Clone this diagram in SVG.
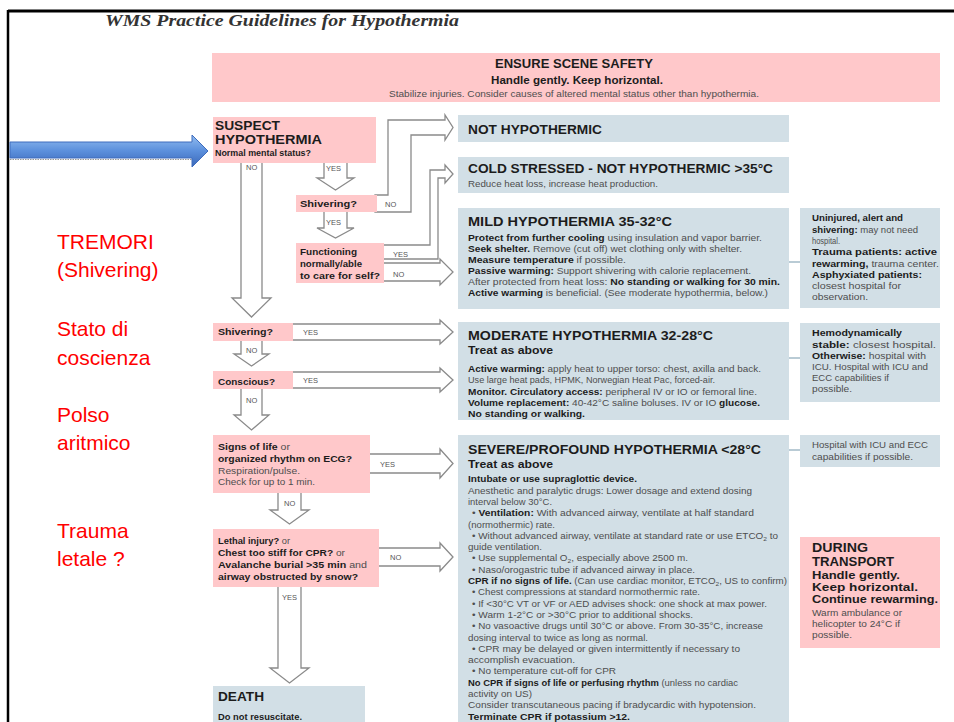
<svg xmlns="http://www.w3.org/2000/svg" width="954" height="722" viewBox="0 0 954 722">
<defs>
<linearGradient id="blueGrad" x1="0" y1="0" x2="0" y2="1">
<stop offset="0" stop-color="#93bdf0"/>
<stop offset="0.5" stop-color="#5b8fdc"/>
<stop offset="1" stop-color="#3a68b8"/>
</linearGradient>
<style>
text{font-family:"Liberation Sans",Arial,sans-serif}
.t{font-size:9px;fill:#4e4e4e}
.b{font-weight:700;fill:#1c1c1c}
.h{font-size:13.5px;font-weight:700;fill:#1c1c1c}
.s{font-size:11px;font-weight:700;fill:#1c1c1c}
.lbl{font-size:7.5px;fill:#555}
.pink{fill:#FFC8CA}
.blue{fill:#D2DFE6}
.arr{fill:#fff;stroke:#8a8a8a;stroke-width:1.3;stroke-linejoin:miter}
.link{stroke:#b9cbd5;stroke-width:2;fill:none}
.red{font-family:"Liberation Sans",Arial,sans-serif;font-size:21px;fill:#ff0000}
</style>
</defs>
<rect width="954" height="722" fill="#fff"/>
<g id="frame">
<line x1="8" y1="11" x2="954" y2="11" stroke="#000" stroke-width="3"/>
<line x1="8" y1="10" x2="8" y2="722" stroke="#000" stroke-width="2.5"/>
</g>
<g id="title">
<text x="105" y="26" style="font-family:'Liberation Serif','Times New Roman',serif;font-style:italic;font-weight:700;font-size:17px;fill:#333" textLength="354" lengthAdjust="spacingAndGlyphs">WMS Practice Guidelines for Hypothermia</text>
</g>
<g id="connectors">
<polygon class="arr" points="241,161 262,161 262,298 271,298 251.5,317 232,298 241,298"/>
<polygon class="arr" points="324,161 347,161 347,178 354,178 335.5,190 317,178 324,178"/>
<polygon class="arr" points="324,210 347,210 347,228 354,228 335.5,238 317,228 324,228"/>
<polygon class="arr" points="375,195 388,195 388,120 445,120 445,115 453,127.5 445,140 445,135 411,135 411,212 375,212"/>
<polygon class="arr" points="382,245 430,245 430,170 445,170 445,165 453,174 445,183 445,178 438,178 438,259 382,259"/>
<polygon class="arr" points="382,263 440,263 440,259 453,272 440,285 440,281 382,281"/>
<polygon class="arr" points="291,324 440,324 440,320 453,332 440,344 440,340 291,340"/>
<polygon class="arr" points="241,339 262,339 262,354 269,354 251.5,366 234,354 241,354"/>
<polygon class="arr" points="291,372 440,372 440,368 453,380 440,392 440,388 291,388"/>
<polygon class="arr" points="241,387 262,387 262,415 269,415 251.5,430 234,415 241,415"/>
<polygon class="arr" points="368,454 440,454 440,449 453,463.5 440,478 440,473 368,473"/>
<polygon class="arr" points="278,491 301,491 301,510 309,510 289.5,524 270,510 278,510"/>
<polygon class="arr" points="377,548 440,548 440,543 453,557 440,571 440,566 377,566"/>
<polygon class="arr" points="278,585 301,585 301,668 309,668 289.5,683 270,668 278,668"/>
<text class="lbl" x="246" y="170">NO</text>
<text class="lbl" x="326" y="171">YES</text>
<text class="lbl" x="326" y="225">YES</text>
<text class="lbl" x="385" y="207">NO</text>
<text class="lbl" x="393" y="257">YES</text>
<text class="lbl" x="393" y="277">NO</text>
<text class="lbl" x="303" y="335">YES</text>
<text class="lbl" x="246" y="353">NO</text>
<text class="lbl" x="303" y="383">YES</text>
<text class="lbl" x="246" y="403">NO</text>
<text class="lbl" x="380" y="467">YES</text>
<text class="lbl" x="284" y="506">NO</text>
<text class="lbl" x="390" y="560">NO</text>
<text class="lbl" x="282" y="600">YES</text>
<line class="link" x1="789" y1="262" x2="800" y2="262"/>
<line class="link" x1="789" y1="358" x2="800" y2="358"/>
<line class="link" x1="789" y1="450" x2="800" y2="450"/>
<g id="pointer-arrow">
<line x1="10" y1="159.5" x2="192" y2="159.5" stroke="#999" stroke-width="1.2" stroke-dasharray="1.5,1"/>
<polygon points="10,142 192,142 192,135 208,151 192,167 192,158 10,158" fill="url(#blueGrad)" stroke="#3f6cbd" stroke-width="1"/>
</g>
</g>
<g id="safety">
<rect class="pink" x="212" y="53" width="728" height="49"/>
<text class="b" x="574" y="68" text-anchor="middle" font-size="13" textLength="158" lengthAdjust="spacingAndGlyphs">ENSURE SCENE SAFETY</text>
<text class="b" x="577" y="84" text-anchor="middle" font-size="11" textLength="172" lengthAdjust="spacingAndGlyphs">Handle gently. Keep horizontal.</text>
<text class="t" x="574" y="96.5" text-anchor="middle" font-size="8" textLength="370" lengthAdjust="spacingAndGlyphs">Stabilize injuries. Consider causes of altered mental status other than hypothermia.</text>
</g>
<g id="suspect">
<rect class="pink" x="213" y="117" width="163" height="46"/>
<text class="h" x="215" y="129.5" font-size="11.5" textLength="65" lengthAdjust="spacingAndGlyphs">SUSPECT</text>
<text class="h" x="215" y="143.5" font-size="11.5" textLength="107" lengthAdjust="spacingAndGlyphs">HYPOTHERMIA</text>
<text class="t b" x="215" y="155.5" textLength="96" lengthAdjust="spacingAndGlyphs">Normal mental status?</text>
</g>
<g id="shivering1">
<rect class="pink" x="296" y="195" width="81" height="17"/>
<text class="t b" x="300" y="207" textLength="57" lengthAdjust="spacingAndGlyphs">Shivering?</text>
</g>
<g id="functioning">
<rect class="pink" x="296" y="243" width="88" height="40"/>
<text class="t b" x="300" y="255" textLength="57" lengthAdjust="spacingAndGlyphs">Functioning</text>
<text class="t b" x="300" y="267" textLength="62" lengthAdjust="spacingAndGlyphs">normally/able</text>
<text class="t b" x="300" y="279" textLength="80" lengthAdjust="spacingAndGlyphs">to care for self?</text>
</g>
<g id="shivering2">
<rect class="pink" x="213" y="323" width="80" height="18"/>
<text class="t b" x="218" y="335" textLength="55" lengthAdjust="spacingAndGlyphs">Shivering?</text>
</g>
<g id="conscious">
<rect class="pink" x="213" y="371" width="80" height="18"/>
<text class="t b" x="218" y="384.5" textLength="57" lengthAdjust="spacingAndGlyphs">Conscious?</text>
</g>
<g id="signs">
<rect class="pink" x="213" y="435" width="157" height="58"/>
<text class="t" x="218" y="450" textLength="72" lengthAdjust="spacingAndGlyphs"><tspan class="b">Signs of life</tspan> or</text>
<text class="t b" x="218" y="462" textLength="134" lengthAdjust="spacingAndGlyphs">organized rhythm on ECG?</text>
<text class="t" x="218" y="473.5" textLength="82" lengthAdjust="spacingAndGlyphs">Respiration/pulse.</text>
<text class="t" x="218" y="485" textLength="97" lengthAdjust="spacingAndGlyphs">Check for up to 1 min.</text>
</g>
<g id="lethal">
<rect class="pink" x="213" y="529" width="166" height="58"/>
<text class="t" x="218" y="543.5" textLength="72" lengthAdjust="spacingAndGlyphs"><tspan class="b">Lethal injury?</tspan> or</text>
<text class="t" x="218" y="555.5" textLength="127" lengthAdjust="spacingAndGlyphs"><tspan class="b">Chest too stiff  for CPR?</tspan> or</text>
<text class="t" x="218" y="567.5" textLength="149" lengthAdjust="spacingAndGlyphs"><tspan class="b">Avalanche burial &gt;35 min</tspan> and</text>
<text class="t b" x="218" y="579.5" textLength="140" lengthAdjust="spacingAndGlyphs">airway obstructed by snow?</text>
</g>
<g id="death">
<rect class="blue" x="213" y="686" width="152" height="36"/>
<text class="h" x="218" y="701" font-size="14" textLength="46" lengthAdjust="spacingAndGlyphs">DEATH</text>
<text class="t b" x="218" y="720" textLength="84" lengthAdjust="spacingAndGlyphs">Do not resuscitate.</text>
</g>
<g id="not-hypothermic">
<rect class="blue" x="458" y="115" width="331" height="27"/>
<text class="h" x="468" y="134" textLength="134" lengthAdjust="spacingAndGlyphs">NOT HYPOTHERMIC</text>
</g>
<g id="cold-stressed">
<rect class="blue" x="458" y="157" width="331" height="36"/>
<text class="h" x="468" y="173" textLength="305" lengthAdjust="spacingAndGlyphs">COLD STRESSED - NOT HYPOTHERMIC &gt;35°C</text>
<text class="t" x="468" y="187" textLength="190" lengthAdjust="spacingAndGlyphs">Reduce heat loss, increase heat production.</text>
</g>
<g id="mild">
<rect class="blue" x="458" y="208" width="331" height="101"/>
<text class="h" x="468" y="226" textLength="204" lengthAdjust="spacingAndGlyphs">MILD HYPOTHERMIA 35-32°C</text>
<text class="t" x="468" y="240.5" textLength="294" lengthAdjust="spacingAndGlyphs"><tspan class="b">Protect from further cooling</tspan> using insulation and vapor barrier.</text>
<text class="t" x="468" y="251.5" textLength="274" lengthAdjust="spacingAndGlyphs"><tspan class="b">Seek shelter.</tspan> Remove (cut off) wet clothing only with shelter.</text>
<text class="t" x="468" y="262.5" textLength="158" lengthAdjust="spacingAndGlyphs"><tspan class="b">Measure temperature</tspan> if possible.</text>
<text class="t" x="468" y="273.5" textLength="283" lengthAdjust="spacingAndGlyphs"><tspan class="b">Passive warming:</tspan> Support shivering with calorie replacement.</text>
<text class="t" x="468" y="284.5" textLength="312" lengthAdjust="spacingAndGlyphs">After protected from heat loss:  <tspan class="b">No standing or walking for 30 min.</tspan></text>
<text class="t" x="468" y="295.5" textLength="300" lengthAdjust="spacingAndGlyphs"><tspan class="b">Active warming</tspan> is beneficial. (See moderate hypothermia, below.)</text>
</g>
<g id="moderate">
<rect class="blue" x="458" y="322" width="331" height="98"/>
<text class="h" x="468" y="340" textLength="245" lengthAdjust="spacingAndGlyphs">MODERATE HYPOTHERMIA 32-28°C</text>
<text class="s" x="468" y="354" textLength="85" lengthAdjust="spacingAndGlyphs">Treat as above</text>
<text class="t" x="468" y="371.5" textLength="293" lengthAdjust="spacingAndGlyphs"><tspan class="b">Active warming:</tspan> apply heat to upper torso: chest, axilla and back.</text>
<text class="t" x="468" y="383" textLength="247" lengthAdjust="spacingAndGlyphs">Use large heat pads, HPMK, Norwegian Heat Pac, forced-air.</text>
<text class="t" x="468" y="394.5" textLength="289" lengthAdjust="spacingAndGlyphs"><tspan class="b">Monitor. Circulatory access:</tspan> peripheral IV or IO or femoral line.</text>
<text class="t" x="468" y="405.5" textLength="292" lengthAdjust="spacingAndGlyphs"><tspan class="b">Volume replacement:</tspan> 40-42°C saline boluses. IV or IO <tspan class="b">glucose.</tspan></text>
<text class="t b" x="468" y="417" textLength="117" lengthAdjust="spacingAndGlyphs">No standing or walking.</text>
</g>
<g id="severe">
<rect class="blue" x="458" y="435" width="331" height="287"/>
<text class="h" x="468" y="454" textLength="293" lengthAdjust="spacingAndGlyphs">SEVERE/PROFOUND HYPOTHERMIA &lt;28°C</text>
<text class="s" x="468" y="468" textLength="85" lengthAdjust="spacingAndGlyphs">Treat as above</text>
<text class="t b" x="468" y="482.3" textLength="169" lengthAdjust="spacingAndGlyphs">Intubate or use supraglottic device.</text>
<text class="t" x="468" y="493.6" textLength="284" lengthAdjust="spacingAndGlyphs">Anesthetic and paralytic drugs: Lower dosage and extend dosing</text>
<text class="t" x="468" y="504.9" textLength="84" lengthAdjust="spacingAndGlyphs">interval below 30°C.</text>
<text class="t" x="472" y="516.2" textLength="282" lengthAdjust="spacingAndGlyphs">• <tspan class="b">Ventilation:</tspan> With advanced airway, ventilate at half standard</text>
<text class="t" x="468" y="527.5" textLength="87" lengthAdjust="spacingAndGlyphs">(normothermic) rate.</text>
<text class="t" x="472" y="538.8" textLength="306" lengthAdjust="spacingAndGlyphs">• Without advanced airway, ventilate at standard rate or use ETCO<tspan font-size="6" dy="2">2</tspan><tspan dy="-2"> to</tspan></text>
<text class="t" x="468" y="550.1" textLength="74" lengthAdjust="spacingAndGlyphs">guide ventilation.</text>
<text class="t" x="472" y="561.4" textLength="216" lengthAdjust="spacingAndGlyphs">• Use supplemental O<tspan font-size="6" dy="2">2</tspan><tspan dy="-2">, especially above 2500 m.</tspan></text>
<text class="t" x="472" y="572.7" textLength="223" lengthAdjust="spacingAndGlyphs">• Naso/orogastric tube if advanced airway in place.</text>
<text class="t" x="468" y="584" textLength="319" lengthAdjust="spacingAndGlyphs"><tspan class="b">CPR if no signs of life.</tspan> (Can use cardiac monitor, ETCO<tspan font-size="6" dy="2">2</tspan><tspan dy="-2">, US to confirm)</tspan></text>
<text class="t" x="472" y="595.3" textLength="228" lengthAdjust="spacingAndGlyphs">• Chest compressions at standard normothermic rate.</text>
<text class="t" x="472" y="606.6" textLength="295" lengthAdjust="spacingAndGlyphs">• If &lt;30°C VT or VF or AED advises shock: one shock at max power.</text>
<text class="t" x="472" y="617.9" textLength="221" lengthAdjust="spacingAndGlyphs">• Warm 1-2°C or &gt;30°C prior to additional shocks.</text>
<text class="t" x="472" y="629.2" textLength="291" lengthAdjust="spacingAndGlyphs">• No vasoactive drugs until 30°C or above. From 30-35°C, increase</text>
<text class="t" x="468" y="640.5" textLength="180" lengthAdjust="spacingAndGlyphs">dosing interval to twice as long as normal.</text>
<text class="t" x="472" y="651.8" textLength="268" lengthAdjust="spacingAndGlyphs">• CPR may be delayed or given intermittently if necessary to</text>
<text class="t" x="468" y="663.1" textLength="107" lengthAdjust="spacingAndGlyphs">accomplish evacuation.</text>
<text class="t" x="472" y="674.4" textLength="144" lengthAdjust="spacingAndGlyphs">• No temperature cut-off for CPR</text>
<text class="t" x="468" y="685.7" textLength="270" lengthAdjust="spacingAndGlyphs"><tspan class="b">No CPR if signs of life or perfusing rhythm</tspan> (unless no cardiac</text>
<text class="t" x="468" y="697" textLength="64" lengthAdjust="spacingAndGlyphs">activity on US)</text>
<text class="t" x="468" y="708.3" textLength="288" lengthAdjust="spacingAndGlyphs">Consider transcutaneous pacing if bradycardic with hypotension.</text>
<text class="t b" x="468" y="719.6" textLength="162" lengthAdjust="spacingAndGlyphs">Terminate CPR if potassium &gt;12.</text>
</g>
<g id="transport-mild">
<rect class="blue" x="800" y="208" width="140" height="100"/>
<text class="t b" x="812" y="221.3" textLength="91" lengthAdjust="spacingAndGlyphs">Uninjured, alert and</text>
<text class="t" x="812" y="232.6" textLength="106" lengthAdjust="spacingAndGlyphs"><tspan class="b">shivering:</tspan> may not need</text>
<text class="t" x="812" y="243.9" textLength="28" lengthAdjust="spacingAndGlyphs">hospital.</text>
<text class="t b" x="812" y="255.2" textLength="125" lengthAdjust="spacingAndGlyphs">Trauma patients: active</text>
<text class="t" x="812" y="266.5" textLength="127" lengthAdjust="spacingAndGlyphs"><tspan class="b">rewarming,</tspan> trauma center.</text>
<text class="t b" x="812" y="277.8" textLength="110" lengthAdjust="spacingAndGlyphs">Asphyxiated patients:</text>
<text class="t" x="812" y="289.1" textLength="89" lengthAdjust="spacingAndGlyphs">closest hospital for</text>
<text class="t" x="812" y="300.4" textLength="56" lengthAdjust="spacingAndGlyphs">observation.</text>
</g>
<g id="transport-moderate">
<rect class="blue" x="800" y="323" width="140" height="79"/>
<text class="t b" x="812" y="336.3" textLength="90" lengthAdjust="spacingAndGlyphs">Hemodynamically</text>
<text class="t" x="812" y="347.5" textLength="124" lengthAdjust="spacingAndGlyphs"><tspan class="b">stable:</tspan> closest hospital.</text>
<text class="t" x="812" y="358.7" textLength="114" lengthAdjust="spacingAndGlyphs"><tspan class="b">Otherwise:</tspan> hospital with</text>
<text class="t" x="812" y="369.9" textLength="116" lengthAdjust="spacingAndGlyphs">ICU. Hospital with ICU and</text>
<text class="t" x="812" y="381.1" textLength="77" lengthAdjust="spacingAndGlyphs">ECC capabilities if</text>
<text class="t" x="812" y="392.3" textLength="40" lengthAdjust="spacingAndGlyphs">possible.</text>
</g>
<g id="transport-severe">
<rect class="blue" x="800" y="435" width="140" height="32"/>
<text class="t" x="812" y="448.3" textLength="116" lengthAdjust="spacingAndGlyphs">Hospital with ICU and ECC</text>
<text class="t" x="812" y="459.5" textLength="101" lengthAdjust="spacingAndGlyphs">capabilities if possible.</text>
</g>
<g id="during-transport">
<rect class="pink" x="800" y="537" width="140" height="111"/>
<text class="h" x="812" y="552" font-size="11.5" textLength="56" lengthAdjust="spacingAndGlyphs">DURING</text>
<text class="h" x="812" y="565.5" font-size="11" textLength="82" lengthAdjust="spacingAndGlyphs">TRANSPORT</text>
<text class="s" x="812" y="579" font-size="11" textLength="88" lengthAdjust="spacingAndGlyphs">Handle gently.</text>
<text class="s" x="812" y="591" font-size="11" textLength="106" lengthAdjust="spacingAndGlyphs">Keep horizontal.</text>
<text class="s" x="812" y="603" font-size="11" textLength="126" lengthAdjust="spacingAndGlyphs">Continue rewarming.</text>
<text class="t" x="812" y="615.5" textLength="90" lengthAdjust="spacingAndGlyphs">Warm ambulance or</text>
<text class="t" x="812" y="626.5" textLength="88" lengthAdjust="spacingAndGlyphs">helicopter to 24°C if</text>
<text class="t" x="812" y="638" textLength="40" lengthAdjust="spacingAndGlyphs">possible.</text>
</g>
<g id="annotations">
<text class="red" x="57" y="249">TREMORI</text>
<text class="red" x="57" y="277">(Shivering)</text>
<text class="red" x="57" y="336">Stato di</text>
<text class="red" x="57" y="365">coscienza</text>
<text class="red" x="57" y="422">Polso</text>
<text class="red" x="57" y="450">aritmico</text>
<text class="red" x="57" y="538">Trauma</text>
<text class="red" x="57" y="566">letale ?</text>
</g>
</svg>
